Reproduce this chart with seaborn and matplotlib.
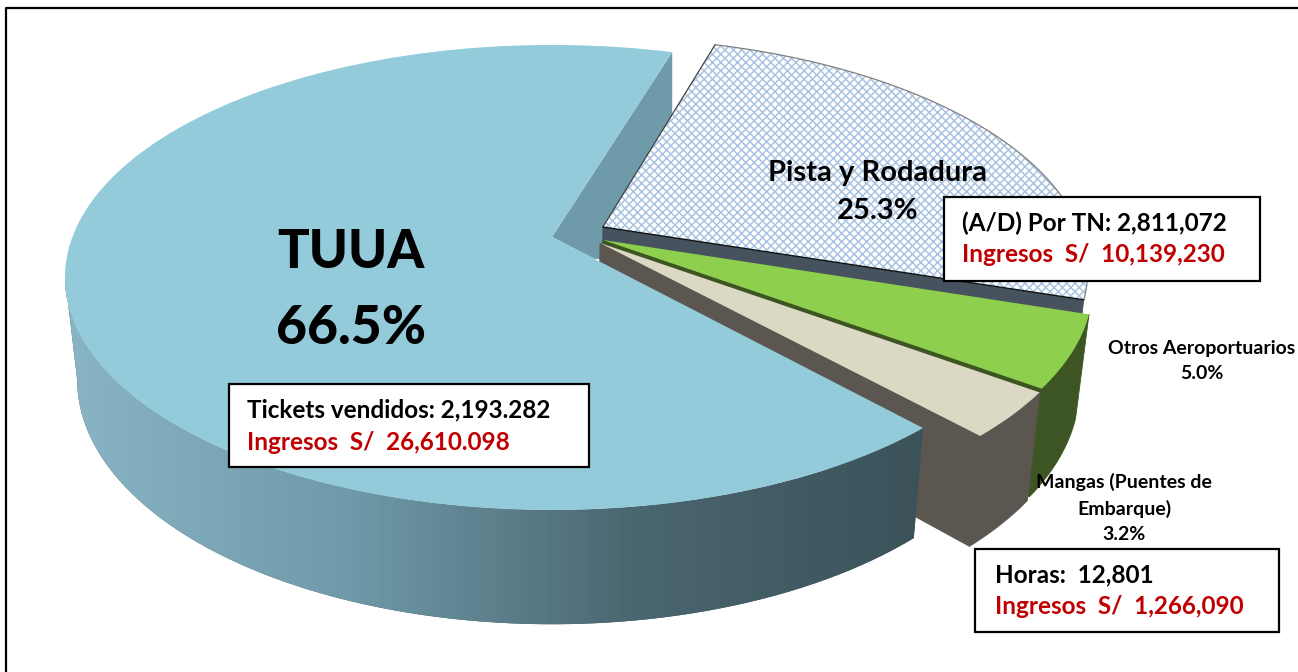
import numpy as np
import matplotlib.pyplot as plt
import seaborn as sns
from matplotlib.colors import LinearSegmentedColormap
from matplotlib.patches import Polygon, Rectangle
from matplotlib.transforms import Transform

sns.set_theme(style='white')
plt.rcParams['font.family'] = ['Lato', 'DejaVu Sans']
plt.rcParams['hatch.linewidth'] = 1.1

# Slice order follows the pie, counter clockwise from the TUUA start
slices = ['TUUA', 'Mangas', 'Otros', 'Pista']
shares = [66.5, 3.2, 5.0, 25.3]
top_colors = ['#93cbda', '#dbd9c3', '#8ecf4d', 'white']
side_colors = ['#3d555c', '#5b5750', '#3d5522', '#46535f']
side_gradient = ['#8ab5c5', '#6f9aa9', '#4a6670', '#3b5259']

# Pulled out slices, in pie units
centers = {'TUUA': (0, 0), 'Mangas': (0.0996, -0.0265), 'Otros': (0.106, -0.0133), 'Pista': (0.107, 0.0447)}

# Perspective of the disc in picture pixels
CX, CY = 552, 237
A, B, K = 479.6, 225.5, 0.174
DEPTH, SHRINK = 100, 0.025


class Disc(Transform):
    """Unit pie coordinates to pixels, z=0 top face and z=1 bottom face."""
    input_dims = 2
    output_dims = 2

    def __init__(self, z=0):
        super().__init__()
        self.z = z

    def transform_non_affine(self, values):
        values = np.asarray(values, dtype=float)
        x, y = values[:, 0], values[:, 1]
        w = 1 + K * y
        scale = 1 - SHRINK * self.z
        return np.column_stack([CX + scale * A * x / w,
                                CY - scale * B * y / w + self.z * DEPTH / w])


top = Disc(0)
bottom = Disc(1)


def arc(name, t1, t2, n=80):
    c = centers[name]
    t = np.radians(np.linspace(t1, t2, n))
    return np.column_stack([c[0] + np.cos(t), c[1] + np.sin(t)])


def cut_face(name, angle):
    c = np.array(centers[name])
    edge = arc(name, angle, angle, 1)
    pts = np.vstack([c, edge])
    return np.vstack([top.transform(pts), bottom.transform(pts)[::-1]])


fig = plt.figure(figsize=(12.98, 6.72), dpi=100)
ax = fig.add_axes([0, 0, 1, 1])
wedges, _ = ax.pie(shares, colors=top_colors, startangle=73, counterclock=True)
ax.set_aspect('auto')
ax.set_xlim(0, 1298)
ax.set_ylim(672, 0)
ax.axis('off')

parts = dict(zip(slices, wedges))
side = dict(zip(slices, side_colors))

# Frame, open at the right and the bottom
ax.plot([6, 6, 1298], [672, 8, 8], color='black', lw=1.6, zorder=1)

# Inner wall seen in the gap behind the slices
t = parts['TUUA']
end = top.transform(arc('TUUA', t.theta1, t.theta1, 1))[0]
corner = top.transform(0.13 * arc('TUUA', t.theta2, t.theta2, 1))[0]
ax.add_patch(Polygon([end, (CX, CY), corner, (end[0], corner[1])], color='#6e9aa9', lw=0, zorder=2))

# Back to front: every slice gets cut face, rim, top
z = 3
for name in ['Pista', 'Otros', 'Mangas']:
    w = parts[name]
    w.set_center(centers[name])
    w.set_transform(top + ax.transData)
    w.set_linewidth(0)
    ax.add_patch(Polygon(cut_face(name, w.theta1), color=side[name], lw=0.6, zorder=z))
    if name != 'Pista':
        rim = np.vstack([top.transform(arc(name, w.theta1, w.theta2)),
                         bottom.transform(arc(name, w.theta1, w.theta2))[::-1]])
        ax.add_patch(Polygon(rim, color=side[name], lw=0.6, zorder=z))
    w.set_zorder(z + 1)
    z += 2

p = parts['Pista']
p.set_hatch('xxxx')
p.set_edgecolor('#a9c3e2')
rim_line = top.transform(arc('Pista', p.theta1, p.theta2))
ax.plot(rim_line[:, 0], rim_line[:, 1], color='#808080', lw=0.9, zorder=4)
cx_line = top.transform(np.vstack([centers['Pista'], arc('Pista', p.theta2, p.theta2, 1)]))
ax.plot(cx_line[:, 0], cx_line[:, 1], color='#404040', lw=0.9, zorder=4)
cx_line = top.transform(np.vstack([centers['Pista'], arc('Pista', p.theta1, p.theta1, 1)]))
ax.plot(cx_line[:, 0], cx_line[:, 1], color='#111111', lw=1.0, zorder=4)

# TUUA rim with the left to right shading
t.set_transform(top + ax.transData)
t.set_linewidth(0)
t.set_zorder(z + 2)
rim = np.vstack([top.transform(arc('TUUA', 190, t.theta2)),
                 bottom.transform(arc('TUUA', 190, t.theta2))[::-1]])
rim_patch = Polygon(rim, color=side['TUUA'], lw=0, zorder=z)
ax.add_patch(rim_patch)
cmap = LinearSegmentedColormap.from_list('rim', side_gradient)
img = ax.imshow(np.linspace(0, 1, 256)[None, :], cmap=cmap, extent=[60, 925, 672, 0],
                aspect='auto', zorder=z + 1)
img.set_clip_path(rim_patch)
ax.set_xlim(0, 1298)
ax.set_ylim(672, 0)

TEXT_Z = 20
ax.text(351, 252, 'TUUA', fontsize=38, fontweight=900, color='black', ha='center', va='center', zorder=TEXT_Z)
ax.text(351, 328, '66.5%', fontsize=38.5, fontweight=900, color='black', ha='center', va='center', zorder=TEXT_Z)
ax.text(878, 192, 'Pista y Rodadura\n25.3%', fontsize=21, fontweight='bold', color='black', ha='center', va='center',
        linespacing=1.55, zorder=TEXT_Z)
ax.text(1202, 361, 'Otros Aeroportuarios\n5.0%', fontsize=14, fontweight='bold', color='black', ha='center', va='center',
        linespacing=1.6, zorder=TEXT_Z)
ax.text(1124, 508, 'Mangas (Puentes de\nEmbarque)\n3.2%', fontsize=14, fontweight='bold', color='black', ha='center',
        va='center', linespacing=1.6, zorder=TEXT_Z)

# Value boxes: x0, y0, x1, y1, first line, red line
boxes = [
    (229, 384, 589, 467, 'Tickets vendidos: 2,193.282', 'Ingresos  S/  26,610.098', 247),
    (944, 197, 1260, 281, '(A/D) Por TN: 2,811,072', 'Ingresos  S/  10,139,230', 962),
    (975, 549, 1279, 632, 'Horas:  12,801', 'Ingresos  S/  1,266,090', 995),
]
for x0, y0, x1, y1, line1, line2, tx in boxes:
    ax.add_patch(Rectangle((x0, y0), x1 - x0, y1 - y0, facecolor='white', edgecolor='black', lw=1.6, zorder=TEXT_Z - 1))
    ax.text(tx, y0 + 26, line1, fontsize=17.5, fontweight='bold', color='black', va='center', zorder=TEXT_Z)
    ax.text(tx, y0 + 58, line2, fontsize=17.5, fontweight='bold', color='#c00000', va='center', zorder=TEXT_Z)

fig.savefig('out.png', dpi=100, facecolor='white')
